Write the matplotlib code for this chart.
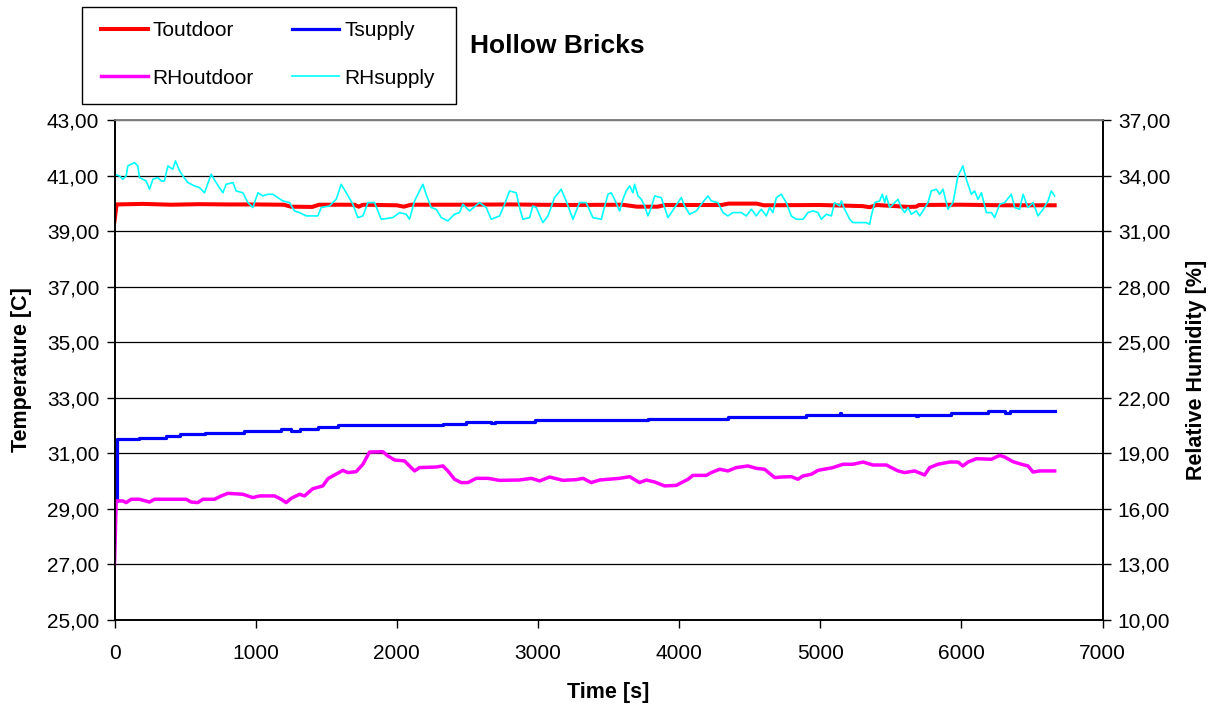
import matplotlib
matplotlib.use("Agg")
import matplotlib.pyplot as plt
from matplotlib.ticker import FuncFormatter
from matplotlib.patches import Rectangle

plt.rcParams['font.family'] = ['Liberation Sans', 'DejaVu Sans']

# ---------------- data ----------------
t_out_time = [0, 15, 200, 400, 600, 800, 1000, 1200, 1250, 1400, 1450, 1700, 1730, 1760,
              2000, 2050, 2100, 2400, 2800, 3200, 3600, 3700, 3850, 3900, 4300, 4350,
              4550, 4600, 5000, 5300, 5350, 5400, 5630, 5680, 5700, 6000, 6300, 6661]
t_outdoor = [39.36, 39.96, 39.98, 39.95, 39.97, 39.96, 39.96, 39.95, 39.88, 39.87, 39.95,
             39.95, 39.88, 39.95, 39.93, 39.88, 39.95, 39.95, 39.96, 39.94, 39.95, 39.88,
             39.88, 39.94, 39.94, 39.99, 39.99, 39.93, 39.94, 39.90, 39.86, 39.94, 39.87,
             39.88, 39.94, 39.95, 39.93, 39.93]

t_sup_time = [0, 15, 177, 366, 461, 638, 921, 1181, 1250, 1311, 1441, 1583, 2327, 2492,
              2669, 2693, 2976, 3012, 3780, 4346, 4901, 5138, 5150, 5681, 5695, 5929,
              6189, 6307, 6342, 6661]
t_supply = [29.30, 31.50, 31.56, 31.63, 31.69, 31.75, 31.81, 31.89, 31.81, 31.86, 31.95,
            32.01, 32.07, 32.14, 32.10, 32.14, 32.21, 32.19, 32.25, 32.32, 32.39, 32.44,
            32.39, 32.35, 32.39, 32.45, 32.52, 32.44, 32.51, 32.51]

rh_out_time = [0, 12, 59, 83, 118, 177, 248, 283, 508, 543, 590, 626, 709, 756, 803, 909,
               980, 1027, 1134, 1181, 1216, 1252, 1311, 1346, 1405, 1476, 1512, 1559, 1618,
               1653, 1712, 1760, 1807, 1901, 1937, 1984, 2055, 2090, 2126, 2161, 2279, 2327,
               2362, 2409, 2456, 2504, 2563, 2646, 2728, 2870, 2953, 3012, 3083, 3177, 3272,
               3319, 3378, 3437, 3579, 3650, 3720, 3768, 3827, 3898, 3980, 4063, 4098, 4193,
               4228, 4287, 4346, 4405, 4488, 4547, 4606, 4677, 4724, 4795, 4842, 4878, 4937,
               4984, 5090, 5161, 5232, 5303, 5374, 5468, 5551, 5598, 5669, 5740, 5775, 5834,
               5917, 5976, 6011, 6047, 6106, 6213, 6272, 6307, 6366, 6425, 6472, 6508, 6555,
               6602, 6661]
rh_outdoor = [13.01, 16.43, 16.43, 16.34, 16.52, 16.52, 16.37, 16.52, 16.52, 16.37, 16.34,
              16.52, 16.52, 16.70, 16.84, 16.79, 16.61, 16.70, 16.70, 16.52, 16.34, 16.57,
              16.79, 16.70, 17.09, 17.24, 17.63, 17.83, 18.08, 17.96, 18.01, 18.41, 19.07,
              19.09, 18.86, 18.64, 18.59, 18.32, 18.05, 18.23, 18.26, 18.32, 18.05, 17.60,
              17.42, 17.42, 17.65, 17.65, 17.54, 17.56, 17.65, 17.51, 17.72, 17.54, 17.58,
              17.65, 17.42, 17.56, 17.65, 17.74, 17.42, 17.56, 17.45, 17.24, 17.27, 17.60,
              17.81, 17.81, 17.96, 18.14, 18.05, 18.23, 18.32, 18.19, 18.14, 17.69, 17.72,
              17.74, 17.60, 17.78, 17.87, 18.08, 18.23, 18.41, 18.41, 18.53, 18.37, 18.37,
              18.05, 17.96, 18.05, 17.83, 18.23, 18.41, 18.53, 18.53, 18.32, 18.53, 18.71,
              18.68, 18.89, 18.80, 18.55, 18.41, 18.32, 17.99, 18.05, 18.05, 18.05]

rh_sup_time = [0, 35, 59, 83, 94, 118, 142, 165, 177, 224, 248, 272, 307, 331, 354, 378,
               413, 432, 461, 484, 520, 567, 602, 638, 685, 720, 768, 791, 839, 862, 909,
               945, 980, 1016, 1051, 1087, 1122, 1157, 1193, 1240, 1275, 1311, 1358, 1441,
               1464, 1523, 1571, 1606, 1642, 1689, 1724, 1760, 1795, 1842, 1890, 1972, 2020,
               2067, 2090, 2126, 2149, 2185, 2208, 2244, 2279, 2315, 2362, 2409, 2445, 2468,
               2515, 2586, 2634, 2669, 2728, 2764, 2799, 2846, 2870, 2893, 2941, 2964, 2988,
               3035, 3071, 3118, 3165, 3200, 3248, 3295, 3342, 3389, 3449, 3496, 3519, 3543,
               3579, 3602, 3626, 3650, 3673, 3685, 3709, 3732, 3756, 3779, 3803, 3827, 3874,
               3898, 3921, 3945, 3968, 3992, 4016, 4039, 4075, 4122, 4157, 4205, 4228, 4275,
               4311, 4346, 4382, 4441, 4476, 4512, 4547, 4582, 4618, 4642, 4665, 4689, 4724,
               4760, 4795, 4831, 4878, 4913, 4949, 4984, 5008, 5043, 5079, 5102, 5138, 5150,
               5173, 5209, 5232, 5280, 5327, 5350, 5362, 5386, 5421, 5440, 5457, 5468, 5492,
               5516, 5551, 5575, 5598, 5622, 5645, 5681, 5705, 5728, 5764, 5787, 5823, 5846,
               5870, 5905, 5941, 5976, 6011, 6035, 6071, 6094, 6118, 6142, 6177, 6213, 6236,
               6272, 6307, 6354, 6378, 6413, 6437, 6472, 6508, 6543, 6579, 6614, 6637, 6661]
rh_supply = [34.07, 33.98, 33.80, 33.98, 34.52, 34.61, 34.70, 34.52, 33.89, 33.71, 33.26,
             33.80, 33.89, 33.71, 33.71, 34.52, 34.34, 34.79, 34.25, 33.98, 33.62, 33.44,
             33.35, 33.07, 34.07, 33.62, 33.07, 33.53, 33.62, 33.17, 33.07, 32.54, 32.27,
             33.07, 32.90, 32.99, 32.99, 32.81, 32.63, 32.54, 32.09, 32.00, 31.82, 31.82,
             32.27, 32.36, 32.72, 33.53, 33.07, 32.45, 31.73, 31.82, 32.54, 32.54, 31.64,
             31.73, 32.00, 31.91, 31.64, 32.63, 32.99, 33.53, 32.99, 32.27, 32.18, 31.73,
             31.55, 31.91, 32.00, 32.45, 32.09, 32.54, 32.27, 31.64, 31.82, 32.45, 33.17,
             33.07, 32.27, 31.64, 31.73, 32.36, 32.27, 31.46, 31.82, 32.81, 33.26, 32.63,
             31.64, 32.54, 32.54, 31.73, 31.64, 32.99, 33.07, 32.72,
             32.09, 32.72, 33.17, 33.44, 33.07, 33.53, 32.90, 32.72, 32.36, 31.82, 32.27,
             32.90, 32.81, 32.27, 31.73, 32.00, 32.27, 32.54, 32.81, 32.36, 31.91, 32.09,
             32.45, 32.90, 32.63, 32.54, 32.00, 31.82, 32.00, 32.00, 31.82, 32.18, 31.82,
             32.18, 31.82, 32.27, 32.00, 32.81, 32.99, 32.54, 31.82, 31.64, 31.64, 32.00,
             32.09, 32.00, 31.64, 31.91, 31.82, 32.54, 32.36, 32.63, 32.18, 31.64, 31.46,
             31.46, 31.46, 31.37, 31.82, 32.54, 32.63, 32.99, 32.54, 32.90, 32.27, 32.45,
             32.72, 32.27, 32.00, 32.27, 31.91, 32.09, 31.82, 32.09, 32.54, 33.17, 33.26,
             32.99, 33.26, 32.18, 32.54, 33.98, 34.52, 33.80, 32.99, 33.17, 32.72, 33.07,
             32.00, 32.00, 31.73, 32.45, 32.54, 32.99, 32.27, 32.18, 32.99, 32.27, 32.54,
             31.82, 32.18, 32.63, 33.17, 32.90]

x_ticks = [0, 1000, 2000, 3000, 4000, 5000, 6000, 7000]
left_ticks = [25, 27, 29, 31, 33, 35, 37, 39, 41, 43]
right_ticks = [10, 13, 16, 19, 22, 25, 28, 31, 34, 37]

# ---------------- figure ----------------
W, H = 1211, 704
fig = plt.figure(figsize=(W / 100, H / 100), dpi=100)
ax = fig.add_axes([114.5 / W, 1 - 620 / H, (1102.5 - 114.5) / W, 500 / H])
ax2 = ax.twinx()

l1, = ax.plot(t_out_time, t_outdoor, color='#FF0000', lw=2.9, label='Toutdoor',
              solid_joinstyle='round')
l2, = ax.plot(t_sup_time, t_supply, color='#0000FF', lw=2.3, label='Tsupply',
              drawstyle='steps-post')
l3, = ax2.plot(rh_out_time, rh_outdoor, color='#FF00FF', lw=2.5, label='RHoutdoor')
l4, = ax2.plot(rh_sup_time, rh_supply, color='#00FFFF', lw=1.2, label='RHsupply')

ax.set_xlim(0, 7000)
ax.set_ylim(25, 43)
ax2.set_ylim(10, 37)
ax.set_xticks(x_ticks)
ax.set_yticks(left_ticks)
ax2.set_yticks(right_ticks)
fmt = FuncFormatter(lambda v, p: f"{v:.2f}".replace('.', ','))
ax.yaxis.set_major_formatter(fmt)
ax2.yaxis.set_major_formatter(fmt)

ax.grid(axis='y', color='black', lw=0.9)
ax.set_axisbelow(True)

for a in (ax, ax2):
    a.tick_params(direction='out', length=6, width=1, labelsize=15, color='black')
    for s in a.spines.values():
        s.set_color('black')
        s.set_linewidth(1.2)
    a.spines['top'].set_color('#808080')
ax.tick_params(axis='x', pad=11)
ax.tick_params(axis='y', pad=5)
ax2.tick_params(axis='y', pad=5)

ax.set_xlabel('Time [s]', fontsize=15.5, fontweight='bold', labelpad=14)
ax.set_ylabel('Temperature [C]', fontsize=15.5, fontweight='bold', labelpad=11)
ax2.set_ylabel('Relative Humidity [%]', fontsize=15.5, fontweight='bold', labelpad=11)

fig.text(470 / W, 1 - 46 / H, 'Hollow Bricks', fontsize=19, fontweight='bold',
         ha='left', va='center')

# legend frame
fig.patches.append(Rectangle((82 / W, 1 - 104 / H), 374 / W, 97 / H,
                             transform=fig.transFigure, facecolor='white',
                             edgecolor='black', lw=1.0, zorder=2))
leg = fig.legend([l1, l3, l2, l4], ['Toutdoor', 'RHoutdoor', 'Tsupply', 'RHsupply'],
                 ncol=2, loc='center left',
                 bbox_to_anchor=(100.5 / W, 1 - 54.5 / H),
                 bbox_transform=fig.transFigure, borderaxespad=0, borderpad=0,
                 fontsize=15, frameon=False, handlelength=2.26,
                 handletextpad=0.24, labelspacing=1.36, columnspacing=1.83)
leg.set_zorder(3)

fig.savefig('out.png', dpi=100, facecolor='white')
